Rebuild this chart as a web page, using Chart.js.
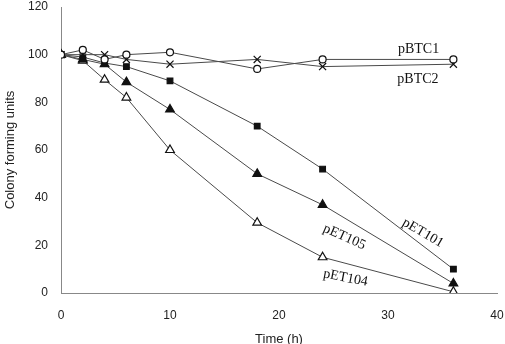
<!DOCTYPE html>
<html>
<head>
<meta charset="utf-8">
<script src="https://cdn.jsdelivr.net/npm/chart.js@4/dist/chart.umd.min.js"></script>
<style>
  html, body { margin: 0; padding: 0; background: #fff; }
  #wrap { width: 505px; height: 344px; position: relative; }
</style>
</head>
<body>
<div id="wrap"><canvas id="c" width="505" height="344"></canvas></div>
<script>
const times = [0, 2, 4, 6, 10, 18, 24, 36];
const pBTC1 = [100, 102, 98, 100, 101, 94, 98, 98];
const pBTC2 = [100, 100, 100, 98, 96, 98, 95, 96];
const pET101 = [100, 99, 96.5, 95, 89, 70, 52, 10];
const pET105 = [100, 98, 96, 88.5, 77, 50, 37, 4];
const pET104 = [100, 97.5, 89.5, 82, 60, 29.5, 15, 0.5];
const xTicks = [0, 10, 20, 30, 40];
const yTicks = [0, 20, 40, 60, 80, 100, 120];

const seriesLabels = [
  { text: 'pBTC1', x: 32.8, y: 102.4, rot: 0 },
  { text: 'pBTC2', x: 32.75, y: 89.8, rot: 0 },
  { text: 'pET101', x: 33.2, y: 25.2, rot: 30 },
  { text: 'pET105', x: 26.0, y: 23.5, rot: 24 },
  { text: 'pET104', x: 26.1, y: 6.3, rot: 11 }
];

function pts(arr) { return times.map((t, i) => ({ x: t, y: arr[i] })); }

const lineColor = '#4a4a4a';
const ds = (label, arr, style, fill, radius) => ({
  label, data: pts(arr),
  borderColor: lineColor, borderWidth: 1,
  pointStyle: style, pointRadius: radius, pointHoverRadius: radius,
  pointBackgroundColor: fill, pointBorderColor: '#111', pointBorderWidth: 1.2,
  tension: 0, fill: false
});

const labelPlugin = {
  id: 'seriesLabels',
  afterDatasetsDraw(chart) {
    const ctx = chart.ctx, xs = chart.scales.x, ys = chart.scales.y;
    ctx.save();
    ctx.fillStyle = '#111';
    ctx.font = '14px "Liberation Serif", "Times New Roman", serif';
    ctx.textAlign = 'center';
    ctx.textBaseline = 'middle';
    seriesLabels.forEach(l => {
      ctx.save();
      ctx.translate(xs.getPixelForValue(l.x), ys.getPixelForValue(l.y));
      ctx.rotate(l.rot * Math.PI / 180);
      ctx.fillText(l.text, 0, 0);
      ctx.restore();
    });
    ctx.restore();
  }
};

new Chart(document.getElementById('c'), {
  type: 'line',
  data: {
    datasets: [
      ds('pBTC1', pBTC1, 'circle', '#fff', 3.5),
      ds('pBTC2', pBTC2, 'crossRot', '#fff', 5),
      ds('pET101', pET101, 'rect', '#111', 4),
      ds('pET105', pET105, 'triangle', '#111', 5),
      ds('pET104', pET104, 'triangle', '#fff', 5)
    ]
  },
  options: {
    responsive: false,
    animation: false,
    layout: { padding: { top: 7, right: 8, left: 0, bottom: 0 } },
    plugins: { legend: { display: false }, tooltip: { enabled: false } },
    scales: {
      x: {
        type: 'linear', min: 0, max: 40,
        afterBuildTicks: s => { s.ticks = xTicks.map(v => ({ value: v })); },
        afterFit: s => { s.height = 51; s.paddingLeft = 0; s.paddingRight = 0; },
        grid: { display: false, drawTicks: true, tickLength: 5, tickColor: '#888' },
        border: { display: true, color: '#888', width: 1 },
        ticks: { color: '#222', font: { family: 'Liberation Sans, Arial, sans-serif', size: 12 }, padding: 10, maxRotation: 0 },
        title: { display: true, text: 'Time (h)', color: '#222', font: { family: 'Liberation Sans, Arial, sans-serif', size: 13 }, padding: { top: 2, bottom: -3 } }
      },
      y: {
        type: 'linear', min: 0, max: 120,
        afterBuildTicks: s => { s.ticks = yTicks.map(v => ({ value: v })); },
        afterFit: s => { s.width = 61; s.paddingTop = 0; s.paddingBottom = 0; },
        grid: { display: false, drawTicks: true, tickLength: 5, tickColor: '#888' },
        border: { display: true, color: '#888', width: 1 },
        ticks: { color: '#222', font: { family: 'Liberation Sans, Arial, sans-serif', size: 12 }, padding: 8 },
        title: { display: true, text: 'Colony forming units', color: '#222', font: { family: 'Liberation Sans, Arial, sans-serif', size: 13 }, padding: { top: 3, bottom: 4 } }
      }
    }
  },
  plugins: [labelPlugin]
});
</script>
</body>
</html>
